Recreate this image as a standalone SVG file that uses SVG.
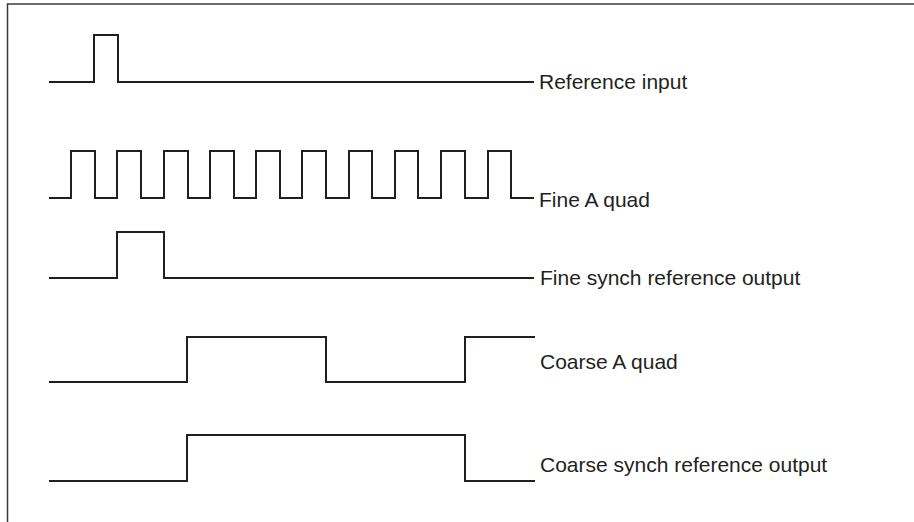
<svg xmlns="http://www.w3.org/2000/svg" width="914" height="522" viewBox="0 0 914 522">
  <style>
    .wave { fill: none; stroke: #231f20; stroke-width: 2; stroke-linejoin: miter; stroke-linecap: butt; }
    .frame { fill: none; stroke: #3a3a3a; stroke-width: 1.5; }
    .lbl { font-family: "Liberation Sans", Arial, Helvetica, sans-serif; font-size: 21px; fill: #231f20; }
  </style>
  <rect x="0" y="0" width="914" height="522" fill="#ffffff"/>
  <path class="frame" d="M7.5,522 V4 H914"/>
  <g id="reference-input">
    <path class="wave" d="M49,82 H94 V35 H118 V82 H534"/>
    <text class="lbl" x="539" y="89">Reference input</text>
  </g>
  <g id="fine-a-quad">
    <path class="wave" d="M49,198 H71 V151 H95 V198 H117 V151 H141 V198 H164 V151 H188 V198 H210 V151 H234 V198 H256 V151 H280 V198 H302 V151 H326 V198 H349 V151 H372 V198 H395 V151 H418 V198 H441 V151 H465 V198 H488 V151 H511 V198 H534"/>
    <text class="lbl" x="539" y="207">Fine A quad</text>
  </g>
  <g id="fine-synch-reference-output">
    <path class="wave" d="M49,278 H117 V232 H164 V278 H534"/>
    <text class="lbl" x="540" y="285">Fine synch reference output</text>
  </g>
  <g id="coarse-a-quad">
    <path class="wave" d="M49,382 H187 V337 H326 V382 H465 V337 H535"/>
    <text class="lbl" x="540" y="369">Coarse A quad</text>
  </g>
  <g id="coarse-synch-reference-output">
    <path class="wave" d="M49,481 H187 V435 H465 V481 H535"/>
    <text class="lbl" x="540" y="472">Coarse synch reference output</text>
  </g>
  <g id="connectors"></g>
</svg>
